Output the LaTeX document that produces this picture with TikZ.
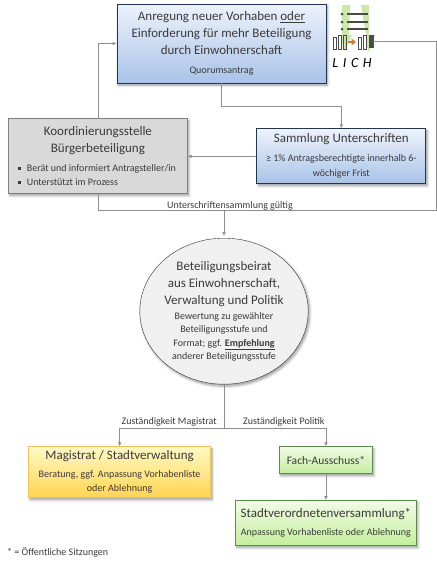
\documentclass[tikz,border=0pt]{standalone}
\usepackage{fontspec}
\setmainfont{Carlito}
\usepackage{xcolor}
\usepackage{tikz}
\usetikzlibrary{positioning, arrows.meta, shapes.geometric, calc, shadows.blur}
\definecolor{ink}{HTML}{3A3A3A}
\definecolor{wire}{HTML}{8E8E8E}
\definecolor{bluetop}{HTML}{EDF2FB}
\definecolor{bluebot}{HTML}{A9C3E8}
\definecolor{blueline}{HTML}{1F3550}
\definecolor{greyfill}{HTML}{D9D9D9}
\definecolor{greyline}{HTML}{7F7F7F}
\definecolor{yellowtop}{HTML}{FFF9C4}
\definecolor{yellowbot}{HTML}{FFD54F}
\definecolor{yellowline}{HTML}{EBC65A}
\definecolor{greentop}{HTML}{F1FBE4}
\definecolor{greenbot}{HTML}{C4EE9E}
\definecolor{greenline}{HTML}{5F8A55}
\definecolor{logogreen}{HTML}{CDE8A6}
\definecolor{logoorange}{HTML}{D9772B}
\definecolor{logodark}{HTML}{4A4A4A}
\tikzset{
  panel/.style     = {rectangle, inner sep=2pt, align=center, text=ink,
                      blur shadow={shadow xshift=1.5pt, shadow yshift=-2pt, shadow blur steps=6, shadow blur radius=2.5pt}},
  bluebox/.style   = {panel, draw=blueline, thick, top color=bluetop, bottom color=bluebot},
  greybox/.style   = {panel, draw=greyline, fill=greyfill},
  yellowbox/.style = {panel, draw=yellowline, thick, top color=yellowtop, bottom color=yellowbot},
  greenbox/.style  = {panel, draw=greenline, thick, top color=greentop, bottom color=greenbot},
  council/.style   = {panel, ellipse, draw=black!80, fill=black!6, inner sep=0pt,
                      minimum width=168pt, minimum height=146pt},
  cue/.style       = {font=\fontsize{10}{12}\selectfont, text=ink, inner sep=0pt},
  ar/.style        = {-{Latex[length=4pt,width=3.6pt]}, draw=wire, thick},
  lin/.style       = {draw=wire, thick},
  logobar/.style   = {rectangle, draw=logodark, fill=white, line width=0.5pt, inner sep=0pt,
                      minimum width=3pt, minimum height=12pt},
}
\newcommand{\bigtext}{\fontsize{13}{16}\selectfont}
\newcommand{\smalltext}{\fontsize{10}{14}\selectfont}
\newcommand{\listmark}{\rule[1.4pt]{2.8pt}{2.8pt}\hspace{6.2pt}}

\begin{document}
\begin{tikzpicture}[x=1pt, y=1pt]
  \useasboundingbox (0,0) rectangle (437,-566);

  \node[bluebox, minimum width=209pt, minimum height=79pt] (anregung) at (221.5,-43.5)
       {\bigtext Anregung neuer Vorhaben \underline{oder}\\[5pt]
        \bigtext Einforderung für mehr Beteiligung\\[5pt]
        \bigtext durch Einwohnerschaft\\[7pt]
        \smalltext Quorumsantrag};
  \node[bluebox, minimum width=169pt, minimum height=55pt, below right=45pt and -70pt of anregung] (sammlung)
       {\bigtext Sammlung Unterschriften\\[7pt]
        \smalltext ≥ 1\% Antragsberechtigte innerhalb 6-\\[3pt]
        \smalltext wöchiger Frist};
  \node[greybox, minimum width=179pt, minimum height=75pt, below left=35pt and -71pt of anregung] (koord)
       {\bigtext Koordinierungsstelle\\[5pt]
        \bigtext Bürgerbeteiligung\\[8pt]
        \parbox{160pt}{\smalltext\raggedright\listmark Berät und informiert Antragsteller/in\\
        \listmark Unterstützt im Prozess}};

  \coordinate (gueltig) at (224,-210);
  \coordinate (aussen) at (436,-210);
  \node[council, below=28pt of gueltig] (beirat)
       {\bigtext Beteiligungsbeirat\\[5pt]
        \bigtext aus Einwohnerschaft,\\[5pt]
        \bigtext Verwaltung und Politik\\[3pt]
        \smalltext Bewertung zu gewählter\\[1.5pt]
        \smalltext Beteiligungsstufe und\\[1.5pt]
        \smalltext Format; ggf. \underline{\textbf{Empfehlung}}\\[1.5pt]
        \smalltext anderer Beteiligungsstufe};
  \coordinate[below=44pt of beirat] (teilung);

  \node[yellowbox, minimum width=182pt, minimum height=51pt, below left=18pt and 13pt of teilung] (magistrat)
       {\bigtext Magistrat / Stadtverwaltung\\[6pt]
        \smalltext Beratung, ggf. Anpassung Vorhabenliste\\[2pt]
        \smalltext oder Ablehnung};
  \node[greenbox, minimum width=93pt, minimum height=27pt, below right=18pt and 55pt of teilung] (ausschuss)
       {\fontsize{11.5}{13}\selectfont Fach-Ausschuss*};
  \node[greenbox, minimum width=181pt, minimum height=45pt, below=26pt of ausschuss] (svv)
       {\bigtext Stadtverordnetenversammlung*\\[6pt]
        \smalltext Anpassung Vorhabenliste oder Ablehnung};

  \node[cue] (gueltigtext) at (230,-206) {Unterschriftensammlung gültig};
  \node[cue, above left=2pt and 7pt of teilung] (magistrattext) {Zuständigkeit Magistrat};
  \node[cue, above right=2pt and 19pt of teilung] (politiktext) {Zuständigkeit Politik};
  \node[cue, anchor=west] (hinweis) at (7,-552) {* = Öffentliche Sitzungen};

  % logo
  \fill[logogreen] (342,-5) -- (350,-5) -- (349,-35) -- (352,-35) -- (345,-51) -- (339,-35) -- (342,-35) -- cycle;
  \fill[logogreen] (361,-5) -- (369,-5) -- (369,-35) -- (375,-35) -- (369,-52) -- (363,-35) -- (366,-35) -- cycle;
  \foreach \y in {14,22,29} {
    \fill[logodark] (342,-\y) circle (1.5pt);
    \fill[logodark] (346.5,-\y-1) rectangle (368,-\y+1);
  }
  \node[logobar] (logoa) at (335,-43) {};
  \node[logobar, minimum height=14pt] (logob) at (340,-42) {};
  \node[logobar, minimum height=14pt, fill=logogreen] (logoc) at (345,-42) {};
  \node[logobar] (logod) at (360,-43) {};
  \node[logobar, minimum height=14pt] (logoe) at (365,-42) {};
  \node[logobar, minimum width=4pt, fill=logodark] (logoend) at (371,-41.5) {};
  \draw[logoorange, line width=2.6pt, -{Triangle[length=4.5pt,width=6.5pt]}] (348,-42) -- (356,-42);
  \node[font=\itshape\fontsize{14}{16}\selectfont, text=black] (lichtext) at (352,-63) {L\,\,I\,\,C\,\,H};

  \draw[ar] (anregung.south) -- ++(0,-23) -| (sammlung.north);
  \draw[ar] (sammlung.west) -- (sammlung.west -| koord.east);
  \draw[ar] (koord.north) |- (anregung.west);
  \draw[lin] (koord.south) |- (aussen) |- (logoend.east);
  \draw[ar] (gueltig) -- ([yshift=2pt]beirat.north);
  \draw[lin] (beirat.south) -- (teilung);
  \draw[ar] (teilung) -| (magistrat.north);
  \draw[ar] (teilung) -| (ausschuss.north);
  \draw[ar] (ausschuss) -- (svv);

\end{tikzpicture}
\end{document}
